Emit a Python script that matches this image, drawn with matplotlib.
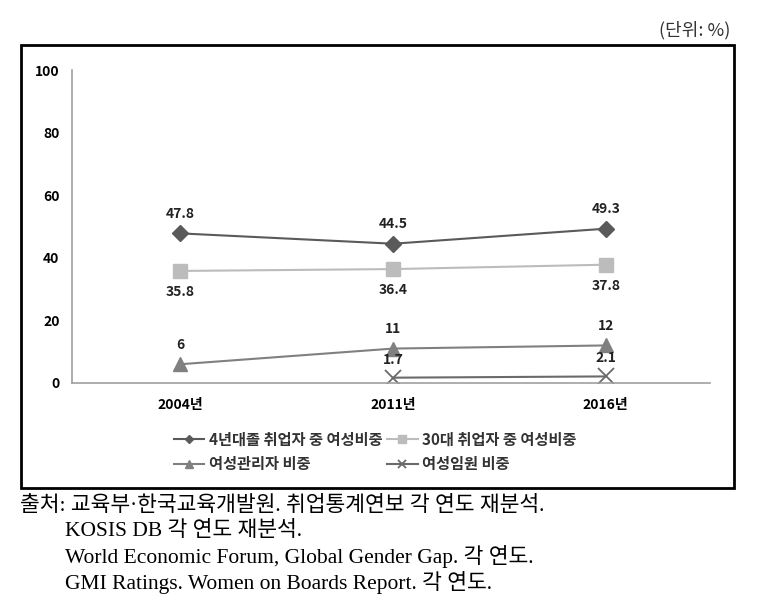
import matplotlib.pyplot as plt
from matplotlib.patches import Rectangle

plt.rcParams['font.family'] = ['Noto Sans CJK KR', 'DejaVu Sans']

years = ['2004년', '2011년', '2016년']
grad = [47.8, 44.5, 49.3]
thirties = [35.8, 36.4, 37.8]
managers = [6, 11, 12]
execs = [None, 1.7, 2.1]
names = ['4년대졸 취업자 중 여성비중', '30대 취업자 중 여성비중',
         '여성관리자 비중', '여성임원 비중']
sources = ['출처: 교육부·한국교육개발원. 취업통계연보 각 연도 재분석.',
           'KOSIS DB 각 연도 재분석.',
           'World Economic Forum, Global Gender Gap. 각 연도.',
           'GMI Ratings. Women on Boards Report. 각 연도.']

fig = plt.figure(figsize=(7.65, 6.02), dpi=100)
ax = fig.add_axes([72/765, 1-383/602, (710-72)/765, (383-70)/602])

x = range(len(years))
h1, = ax.plot(x, grad, color='#5a5a5a', marker='D', ms=8, lw=1.5, label=names[0])
h2, = ax.plot(x, thirties, color='#bcbcbc', marker='s', ms=10, lw=1.5, label=names[1])
h3, = ax.plot(x, managers, color='#808080', marker='^', ms=10, lw=1.5, label=names[2])
xe = [i for i, v in zip(x, execs) if v is not None]
ve = [v for v in execs if v is not None]
h4, = ax.plot(xe, ve, color='#6a6a6a', marker='x', ms=11, mew=1.3, lw=1.5, label=names[3])

lab = dict(ha='center', fontsize=10, fontweight='bold', color='#222222')
for i, v in zip(x, grad):
    ax.annotate(f'{v}', (i, v), xytext=(0, 9), textcoords='offset points', va='bottom', **lab)
for i, v in zip(x, thirties):
    ax.annotate(f'{v}', (i, v), xytext=(0, -10), textcoords='offset points', va='top', **lab)
for i, v in zip(x, managers):
    ax.annotate(f'{v}', (i, v), xytext=(0, 9), textcoords='offset points', va='bottom', **lab)
for i, v in zip(xe, ve):
    ax.annotate(f'{v}', (i, v), xytext=(0, 8), textcoords='offset points', va='bottom', **lab)

ax.set_xlim(-0.51, 2.49)
ax.set_ylim(0, 100)
ax.set_yticks([0, 20, 40, 60, 80, 100])
ax.set_xticks(list(x))
ax.set_xticklabels(years)
for s in ['top', 'right']:
    ax.spines[s].set_visible(False)
for s in ['left', 'bottom']:
    ax.spines[s].set_color('#a0a0a0')
    ax.spines[s].set_linewidth(1.2)
ax.tick_params(length=0, labelsize=10)
ax.tick_params(axis='y', pad=9)
ax.tick_params(axis='x', pad=11)
for t in ax.get_xticklabels() + ax.get_yticklabels():
    t.set_fontweight('bold')

# row-wise order in a 2-column legend
fig.legend([h1, h3, h2, h4], [names[0], names[2], names[1], names[3]],
           loc='upper left', bbox_to_anchor=(160/765, 1-418/602), ncol=2, frameon=False,
           prop={'size': 11, 'weight': 'bold'}, handlelength=2.0, handletextpad=0.3,
           columnspacing=0.3, labelspacing=0.55, markerscale=0.55, labelcolor='#333333')

fig.patches.append(Rectangle((21/765, 1-488/602), (734-21)/765, (488-45)/602,
                             transform=fig.transFigure, fill=False, ec='black', lw=2))
fig.text(730/765, 1-30/602, '(단위: %)', ha='right', va='center', fontsize=13, color='#333333')

sfam = ['Liberation Serif', 'Noto Sans CJK KR']
fig.text(20/765, 1-506/602, sources[0], ha='left', va='center', fontsize=15.5, family=sfam)
for k, s in enumerate(sources[1:]):
    fig.text(65/765, 1-(531+25.5*k)/602, s, ha='left', va='center', fontsize=15.5, family=sfam)

fig.savefig('out.png', dpi=100)
